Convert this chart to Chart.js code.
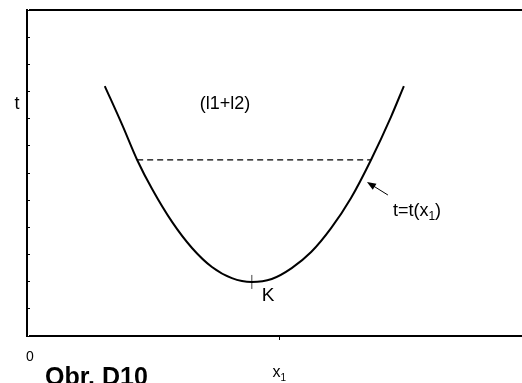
<!DOCTYPE html>
<html>
<head>
<meta charset="utf-8">
<script src="https://cdn.jsdelivr.net/npm/chart.js@4.4.1/dist/chart.umd.min.js"></script>
<style>
  html, body { margin: 0; padding: 0; background: #fff; }
  canvas { display: block; }
</style>
</head>
<body>
<canvas id="curveChart" width="522" height="383"></canvas>
<script>
// t = t(x1) curve, points along both branches
const curveX = [0.150, 0.185, 0.215, 0.245, 0.285, 0.325, 0.365, 0.405, 0.445,
                0.485, 0.525, 0.564, 0.604, 0.644, 0.684, 0.724, 0.750];
const curveT = [9.20, 7.77, 6.48, 5.41, 4.20, 3.24, 2.54, 2.13, 1.99,
                2.10, 2.50, 3.09, 3.97, 5.08, 6.48, 8.06, 9.20];

// dashed level cutting both branches
const levelX = [0.215, 0.684];
const levelT = 6.48;

// minimum K
const minX = 0.445;
const minT = 1.99;

// axes
const xMin = 0;
const xMax = 0.987;
const xTicks = [0.5];
const tMin = 0;
const tMax = 12;
const tStep = 1;

const FONT = "Arial, 'Liberation Sans', sans-serif";

// labels inside the plot, placed in data units
const plotLabels = [
  { parts: [{ s: "(l1+l2)" }], x: 0.391, t: 8.54, size: 18, align: "center" },
  { parts: [{ s: "K" }], x: 0.465, t: 1.49, size: 19, align: "left" },
  { parts: [{ s: "t=t(x" }, { s: "1", sub: true }, { s: ")" }], x: 0.728, t: 4.60, size: 18, align: "left" },
];
const arrowFrom = { x: 0.718, t: 5.19 };
const arrowTo = { x: 0.676, t: 5.67 };

// draws text made of normal and subscript pieces
function drawParts(ctx, parts, x, y, size, align, weight) {
  const subSize = Math.round(size * 0.65);
  let total = 0;
  const widths = parts.map((p) => {
    ctx.font = `${weight || ""} ${p.sub ? subSize : size}px ${FONT}`;
    const w = ctx.measureText(p.s).width;
    total += w;
    return w;
  });
  let cx = align === "center" ? x - total / 2 : x;
  parts.forEach((p, i) => {
    ctx.font = `${weight || ""} ${p.sub ? subSize : size}px ${FONT}`;
    ctx.fillText(p.s, cx, p.sub ? y + size * 0.3 : y);
    cx += widths[i];
  });
}

const labelPlugin = {
  id: "labelPlugin",
  afterDraw(chart) {
    const { ctx, chartArea, scales } = chart;
    const xs = scales.x;
    const ys = scales.y;
    ctx.save();
    ctx.fillStyle = "#000";
    ctx.textAlign = "left";
    ctx.textBaseline = "middle";

    plotLabels.forEach((l) => {
      drawParts(ctx, l.parts, xs.getPixelForValue(l.x), ys.getPixelForValue(l.t), l.size, l.align);
    });

    // arrow pointing at the curve
    const x1 = xs.getPixelForValue(arrowFrom.x);
    const y1 = ys.getPixelForValue(arrowFrom.t);
    const x2 = xs.getPixelForValue(arrowTo.x);
    const y2 = ys.getPixelForValue(arrowTo.t);
    const ang = Math.atan2(y2 - y1, x2 - x1);
    const head = 9;
    ctx.strokeStyle = "#000";
    ctx.lineWidth = 1;
    ctx.beginPath();
    ctx.moveTo(x1, y1);
    ctx.lineTo(x2 - Math.cos(ang) * head * 0.8, y2 - Math.sin(ang) * head * 0.8);
    ctx.stroke();
    ctx.beginPath();
    ctx.moveTo(x2, y2);
    ctx.lineTo(x2 - head * Math.cos(ang) + 3.5 * Math.sin(ang), y2 - head * Math.sin(ang) - 3.5 * Math.cos(ang));
    ctx.lineTo(x2 - head * Math.cos(ang) - 3.5 * Math.sin(ang), y2 - head * Math.sin(ang) + 3.5 * Math.cos(ang));
    ctx.closePath();
    ctx.fill();

    // axis labels
    drawParts(ctx, [{ s: "t" }], chartArea.left - 13, ys.getPixelForValue(8.54), 18, "center");
    drawParts(ctx, [{ s: "0" }], xs.getPixelForValue(xMin), chartArea.bottom + 21, 14, "center");
    drawParts(ctx, [{ s: "x" }, { s: "1", sub: true }], xs.getPixelForValue(xTicks[0]), chartArea.bottom + 37, 16, "center");

    ctx.textBaseline = "alphabetic";
    drawParts(ctx, [{ s: "Obr. D10" }], chartArea.left + 15, chartArea.bottom + 49, 25, "left", "bold");
    ctx.restore();
  },
};

const curvePoints = curveX.map((x, i) => ({ x: x, y: curveT[i] }));
const levelPoints = levelX.map((x) => ({ x: x, y: levelT }));

new Chart(document.getElementById("curveChart"), {
  type: "scatter",
  data: {
    datasets: [
      {
        label: "t=t(x1)",
        data: curvePoints,
        showLine: true,
        borderColor: "#000",
        borderWidth: 2,
        pointRadius: 0,
        cubicInterpolationMode: "monotone",
      },
      {
        label: "level",
        data: levelPoints,
        showLine: true,
        borderColor: "#000",
        borderWidth: 1.2,
        borderDash: [6, 4],
        pointRadius: 0,
      },
      {
        label: "K",
        data: [{ x: minX, y: minT }],
        pointStyle: "line",
        rotation: 90,
        pointRadius: 7,
        borderColor: "#444",
        borderWidth: 1,
      },
    ],
  },
  options: {
    responsive: false,
    animation: false,
    layout: { autoPadding: false, padding: { left: 30, top: 10, right: 0, bottom: 43 } },
    plugins: {
      legend: { display: false },
      tooltip: { enabled: false },
    },
    scales: {
      x: {
        type: "linear",
        position: "bottom",
        min: xMin,
        max: xMax,
        afterBuildTicks: (axis) => {
          axis.ticks = xTicks.map((v) => ({ value: v }));
        },
        ticks: { display: false },
        grid: { drawOnChartArea: false, drawTicks: true, tickLength: 4, color: "#000", lineWidth: 1 },
        border: { display: true, color: "#000", width: 2 },
      },
      xTop: {
        type: "linear",
        position: "top",
        min: xMin,
        max: xMax,
        ticks: { display: false },
        grid: { display: false, drawTicks: false },
        border: { display: true, color: "#000", width: 2 },
      },
      y: {
        type: "linear",
        position: "left",
        min: tMin,
        max: tMax,
        ticks: { display: false, stepSize: tStep },
        grid: { drawOnChartArea: false, drawTicks: true, tickLength: -3, color: "#000", lineWidth: 1 },
        border: { display: true, color: "#000", width: 2 },
      },
    },
  },
  plugins: [labelPlugin],
});
</script>
</body>
</html>
